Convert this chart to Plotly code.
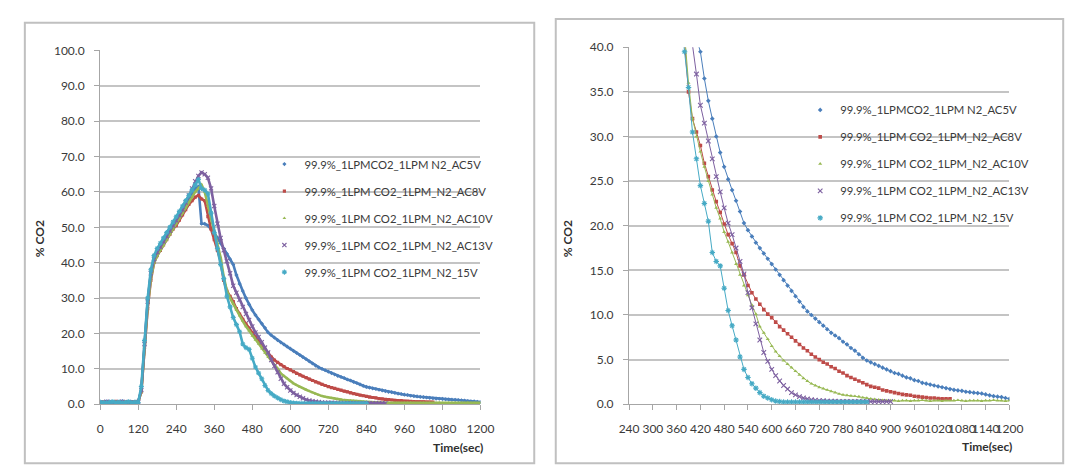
import plotly.graph_objects as go

TIME_S = list(range(0, 1201, 10))

SERIES_NAMES = [
    "99.9%_1LPMCO2_1LPM N2_AC5V",
    "99.9%_1LPM CO2_1LPM_N2_AC8V",
    "99.9%_1LPM CO2_1LPM_N2_AC10V",
    "99.9%_1LPM CO2_1LPM_N2_AC13V",
    "99.9%_1LPM CO2_1LPM_N2_15V",
]

CO2_AC5V = [
    0.6, 0.5, 0.8, 0.4, 0.6, 0.7, 0.5, 0.9, 0.6, 0.5, 0.7, 0.6, 0.7,
    4, 17, 29, 37, 41, 43, 44.5, 46, 47.5, 49, 50.5, 52, 53.5, 55, 56.5, 58, 59.5, 61, 61.5,
    51, 51, 50.5, 49.5, 48.5, 47, 45.5, 44, 42.5, 41,
    39.5, 36.5, 34, 32, 30, 28.2, 26.6, 25.2, 24, 22.8,
    21.6, 20.3, 19.5, 18.8, 18.1, 17.5, 16.9, 16.3, 15.7, 15.1,
    14.5, 13.9, 13.3, 12.7, 12.1, 11.5, 10.9, 10.4, 10.0, 9.6,
    9.2, 8.8, 8.4, 8.0, 7.7, 7.4, 7.0, 6.7, 6.3, 6.0,
    5.6, 5.2, 4.9, 4.7, 4.5, 4.3, 4.1, 3.9, 3.7, 3.5,
    3.4, 3.2, 3.0, 2.9, 2.7, 2.6, 2.4, 2.3, 2.2, 2.1,
    2.0, 1.9, 1.8, 1.7, 1.6, 1.55, 1.5, 1.4, 1.35, 1.3,
    1.25, 1.2, 1.1, 1.0, 0.9, 0.85, 0.8, 0.7, 0.6,
]

CO2_AC8V = [
    0.5, 0.7, 0.4, 0.6, 0.5, 0.8, 0.6, 0.4, 0.7, 0.5, 0.6, 0.5, 0.6,
    3.5, 16, 27, 35, 40, 42, 43.5, 45, 46.5, 48, 49.5, 50.5, 52, 53.5, 55, 56.5, 57.5, 58.5, 59,
    58, 57.5, 53, 49.5, 46.5, 43.5, 40.5, 35, 32, 30.5,
    29, 27, 25.5, 24, 22.7, 21.5, 20.2, 19, 18, 17,
    15.5, 14.5, 13.3, 12.5, 11.8, 11.2, 10.6, 10.1, 9.7, 9.2,
    8.7, 8.3, 7.9, 7.5, 7.1, 6.7, 6.3, 6.0, 5.6, 5.3,
    5.0, 4.7, 4.5, 4.2, 4.0, 3.7, 3.5, 3.2, 3.0, 2.8,
    2.6, 2.4, 2.2, 2.0, 1.9, 1.8, 1.6, 1.5, 1.4, 1.3,
    1.2, 1.1, 1.05, 1.0, 0.9, 0.85, 0.8, 0.75, 0.7, 0.7,
    0.65, 0.6, 0.6, 0.6,
]

CO2_AC10V = [
    0.4, 0.6, 0.5, 0.7, 0.4, 0.6, 0.5, 0.6, 0.8, 0.5, 0.4, 0.6, 0.5,
    3.5, 16, 27.5, 35.5, 40, 42, 43.5, 45, 46.5, 48, 49.5, 51, 52.5, 54, 55.5, 57, 58.5, 60, 61,
    62, 60, 56, 52.5, 49, 45.5, 41.5, 36, 32, 30,
    28.3, 26.6, 25, 23.5, 22, 20.8, 19.3, 18.2, 17, 15.7,
    14.5, 13.3, 12.2, 11.1, 10.1, 8.7, 8.0, 7.3, 6.5, 5.9,
    5.4, 4.9, 4.5, 4.1, 3.7, 3.3, 2.9, 2.6, 2.3, 2.1,
    1.9, 1.75, 1.6, 1.45, 1.3, 1.15, 1.05, 1.0, 0.95, 0.9,
    0.85, 0.75, 0.7, 0.6, 0.55, 0.5, 0.45, 0.4, 0.4, 0.4,
    0.35, 0.4, 0.4, 0.35, 0.4, 0.4, 0.45, 0.4, 0.35, 0.4,
    0.4, 0.35, 0.4, 0.4, 0.4, 0.45, 0.4, 0.35, 0.4, 0.4,
    0.4, 0.35, 0.4, 0.4, 0.45, 0.4, 0.4, 0.35, 0.4,
]

CO2_AC13V = [
    0.5, 0.4, 0.7, 0.6, 0.5, 0.4, 0.6, 0.7, 0.5, 0.6, 0.4, 0.5, 0.6,
    4, 17, 29, 37, 41, 43, 44.5, 46, 47.5, 49, 50.5, 52, 53.5, 55, 57, 59, 61, 63, 64.5,
    65.5, 65, 64, 61, 56, 51, 47, 43.5, 40.5, 37,
    33.5, 31.5, 29.5, 27.5, 25.5, 23.8, 22, 20.3, 19, 17.5,
    16, 14.6, 12.5, 10.8, 9, 7.2, 5.8, 4.8, 3.9, 3.2,
    2.6, 2.1, 1.7, 1.3, 1.05, 0.85, 0.7, 0.6, 0.5, 0.45,
    0.4, 0.4, 0.35, 0.35, 0.35, 0.3, 0.3, 0.3, 0.3, 0.3,
    0.3, 0.3, 0.3, 0.3, 0.3, 0.3, 0.3, 0.3, 0.3,
]

CO2_15V = [
    0.6, 0.5, 0.4, 0.6, 0.7, 0.5, 0.6, 0.4, 0.5, 0.7, 0.5, 0.6, 0.5,
    5, 18, 30, 38, 42, 44, 45.5, 47, 48.5, 50, 51.5, 53, 54.5, 56, 57.5, 59, 60.5, 62, 63.5,
    61, 60.5, 59.5, 54, 48.5, 44, 39.5, 35.5, 30.5, 27.5,
    24.5, 22.5, 20.5, 17, 16, 15.5, 13, 10.5, 8.8, 7.2,
    5.3, 3.9, 3.0, 2.3, 1.8, 1.3, 0.9, 0.7, 0.5, 0.35,
    0.3, 0.25, 0.25, 0.25, 0.25, 0.25, 0.25, 0.25, 0.25, 0.25,
    0.25, 0.25, 0.25, 0.25, 0.25, 0.25, 0.25, 0.25, 0.25, 0.25,
    0.25, 0.25, 0.25,
]

SERIES_VALUES = [CO2_AC5V, CO2_AC8V, CO2_AC10V, CO2_AC13V, CO2_15V]

LEFT_X_TICKS = list(range(0, 1201, 120))
RIGHT_X_TICKS = list(range(240, 1201, 60))

# ---------------- styles ----------------
COLORS = ["#4A7EBB", "#BE4B48", "#98B954", "#7D60A0", "#46AAC5"]
SYMBOLS = ["diamond", "square", "triangle-up", "x-thin-open", "asterisk-open"]
FONT = "Lato, 'Open Sans', sans-serif"
TXT = "#3a3a3a"
W, H = 1078, 471


def px_x(p):
    return p / W


def px_y(p):
    return (H - p) / H


fig = go.Figure()

panels = [
    dict(xa="x", ya="y", legend="legend", lw=2.6, ms=3.2, grp="L"),
    dict(xa="x2", ya="y2", legend="legend2", lw=1.0, ms=3.6, grp="R"),
]

for pn in panels:
    for i, (name, vals) in enumerate(zip(SERIES_NAMES, SERIES_VALUES)):
        t = TIME_S[: len(vals)]
        fig.add_trace(go.Scatter(
            x=t, y=vals, mode="lines",
            line=dict(color=COLORS[i], width=pn["lw"]),
            xaxis=pn["xa"], yaxis=pn["ya"], showlegend=False, hoverinfo="skip",
        ))
        mk = dict(color=COLORS[i], size=pn["ms"], symbol=SYMBOLS[i])
        if SYMBOLS[i].endswith("open"):
            mk["line"] = dict(color=COLORS[i], width=1.1)
            mk["size"] = pn["ms"] + 1.0
        fig.add_trace(go.Scatter(
            x=t, y=vals, mode="markers", marker=mk, name=name,
            xaxis=pn["xa"], yaxis=pn["ya"], legend=pn["legend"],
            legendgroup=pn["grp"] + str(i),
        ))

axis_common = dict(
    showline=True, linecolor="#a6a6a6", linewidth=1.2,
    ticks="outside", ticklen=5, tickcolor="#a6a6a6", tickwidth=1.2,
    tickfont=dict(family=FONT, size=12, color=TXT), zeroline=False,
)

fig.update_layout(
    width=W, height=H,
    margin=dict(l=0, r=0, t=0, b=0),
    paper_bgcolor="white", plot_bgcolor="white",
    font=dict(family=FONT, size=12, color=TXT),
    xaxis=dict(domain=[px_x(84), px_x(473)], range=[0, 1200], tickvals=LEFT_X_TICKS,
               showgrid=False, anchor="y", tickangle=0, ticklabelstandoff=8, **axis_common),
    yaxis=dict(domain=[px_y(401), px_y(35.5)], range=[0, 100], dtick=10, tickformat=".1f",
               showgrid=True, gridcolor="#c4c4c4", gridwidth=1.5, anchor="x",
               ticklabelstandoff=7, **axis_common),
    xaxis2=dict(domain=[px_x(625), px_x(1014)], range=[240, 1200], tickvals=RIGHT_X_TICKS,
                showgrid=False, anchor="y2", tickangle=0, ticklabelstandoff=8, **axis_common),
    yaxis2=dict(domain=[px_y(401), px_y(32.3)], range=[0, 40], dtick=5, tickformat=".1f",
                showgrid=True, gridcolor="#c4c4c4", gridwidth=1.5, anchor="x2",
                ticklabelstandoff=7, **axis_common),
    legend=dict(x=px_x(252), y=px_y(138), xanchor="left", yanchor="top",
                bgcolor="rgba(0,0,0,0)", tracegroupgap=8,
                font=dict(family=FONT, size=11.3, color=TXT)),
    legend2=dict(x=px_x(800), y=px_y(82), xanchor="left", yanchor="top",
                 bgcolor="rgba(0,0,0,0)", tracegroupgap=8,
                 font=dict(family=FONT, size=11.3, color=TXT)),
    shapes=[
        dict(type="rect", xref="paper", yref="paper",
             x0=px_x(7), x1=px_x(528), y0=px_y(462), y1=px_y(7),
             line=dict(color="#c0c0c0", width=2)),
        dict(type="rect", xref="paper", yref="paper",
             x0=px_x(550), x1=px_x(1069), y0=px_y(462), y1=px_y(3),
             line=dict(color="#c0c0c0", width=2)),
    ],
    annotations=[
        dict(text="<b>% CO2</b>", xref="paper", yref="paper", x=px_x(22), y=px_y(230),
             xanchor="center", yanchor="middle",
             textangle=-90, showarrow=False, font=dict(family=FONT, size=12, color="#303030")),
        dict(text="<b>% CO2</b>", xref="paper", yref="paper", x=px_x(562), y=px_y(230),
             xanchor="center", yanchor="middle",
             textangle=-90, showarrow=False, font=dict(family=FONT, size=12, color="#303030")),
        dict(text="<b>Time(sec)</b>", xref="paper", yref="paper", x=px_x(450), y=px_y(446),
             xanchor="center", yanchor="middle",
             showarrow=False, font=dict(family=FONT, size=12, color="#303030")),
        dict(text="<b>Time(sec)</b>", xref="paper", yref="paper", x=px_x(991), y=px_y(445),
             xanchor="center", yanchor="middle",
             showarrow=False, font=dict(family=FONT, size=12, color="#303030")),
    ],
)

fig.write_html("out.html")
